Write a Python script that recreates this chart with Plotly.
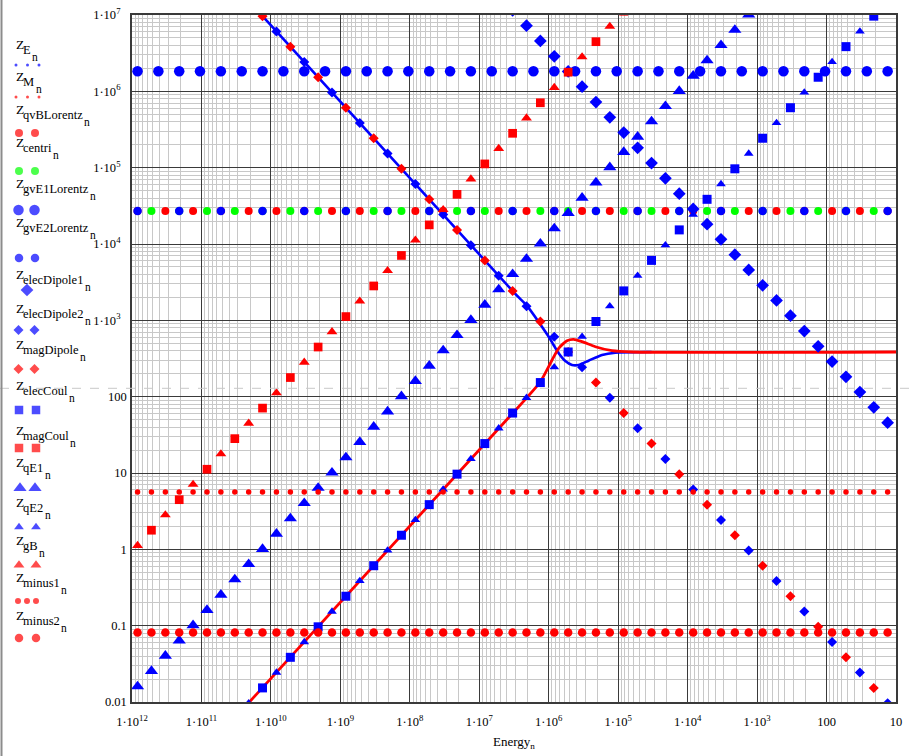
import plotly.graph_objects as go

# ---------------- data ----------------
# energy grid (0.2-decade steps) shared by most marker traces
energy = [
    8.32e11, 5.25e11, 3.31e11, 2.09e11, 1.32e11,
    8.32e10, 5.25e10, 3.31e10, 2.09e10, 1.32e10,
    8.32e9, 5.25e9, 3.31e9, 2.09e9, 1.32e9,
    8.32e8, 5.25e8, 3.31e8, 2.09e8, 1.32e8,
    8.32e7, 5.25e7, 3.31e7, 2.09e7, 1.32e7,
    8.32e6, 5.25e6, 3.31e6, 2.09e6, 1.32e6,
    8.32e5, 5.25e5, 3.31e5, 2.09e5, 1.32e5,
    8.32e4, 5.25e4, 3.31e4, 2.09e4, 1.32e4,
    8.32e3, 5.25e3, 3.31e3, 2.09e3, 1.32e3,
    8.32e2, 5.25e2, 3.31e2, 2.09e2, 1.32e2,
    8.32e1, 5.25e1, 3.31e1, 2.09e1, 1.32e1,
]
# energy grid (0.3-decade steps) used by Z_gvE1Lorentz
energy_gvE1 = [
    8.32e11, 4.17e11, 2.09e11, 1.05e11, 5.25e10, 2.63e10, 1.32e10, 6.61e9, 3.31e9, 1.66e9,
    8.32e8, 4.17e8, 2.09e8, 1.05e8, 5.25e7, 2.63e7, 1.32e7, 6.61e6, 3.31e6, 1.66e6,
    8.32e5, 4.17e5, 2.09e5, 1.05e5, 5.25e4, 2.63e4, 1.32e4, 6.61e3, 3.31e3, 1.66e3,
    8.32e2, 4.17e2, 2.09e2, 1.05e2, 5.25e1, 2.63e1, 1.32e1,
]

# continuous curves
energy_E = [2.51e10, 3.03e6, 2.05e6, 1.00e6, 8.51e5, 7.19e5, 5.77e5, 4.62e5, 3.71e5,
            2.67e5, 1.71e5, 1.10e5, 3.64e4, 3.31e4]
Z_E = [1.84e7, 2.22e3, 1.55e3, 610, 475, 370, 293, 260, 260, 296, 352, 377, 385, 385]

energy_M = [3.98e10, 2.17e6, 1.32e6, 8.95e5, 7.19e5, 5.46e5, 4.38e5, 3.31e5, 2.13e5,
            1.23e5, 6.32e4, 9.0]
Z_M = [0.00513, 92.3, 157, 302, 430, 541, 564, 525, 451, 400, 385, 385]

# marker series
Z_qvBLorentz = [2.7e4] * 28
Z_centri = [2.7e4] * 27
Z_gvE1Lorentz = [1.83e6] * 37
Z_gvE2Lorentz = [2.7e4] * 19
Z_elecDipole1 = [1.15e7, 7.24e6, 4.57e6, 2.88e6, 1.82e6, 1.15e6, 7.24e5, 4.57e5, 2.88e5, 1.82e5,
                 1.15e5, 7.24e4, 4.57e4, 2.88e4, 1.82e4, 1.15e4, 7.24e3, 4.57e3, 2.88e3, 1.82e3,
                 1.15e3, 724, 457, 288, 182, 115, 72.4, 45.7]
Z_elecDipole2 = [6.10e6, 2.43e6, 9.66e5, 3.85e5, 1.53e5, 6.10e4, 2.43e4, 9.66e3, 3.85e3, 1.53e3,
                 610, 243, 96.6, 38.5, 15.3, 6.10, 2.43, 0.966, 0.385, 0.153, 0.0610, 0.0243, 0.00966]
Z_magDipole = [9.66e6, 3.85e6, 1.53e6, 6.10e5, 2.43e5, 9.66e4, 3.85e4, 1.53e4, 6.10e3, 2.43e3,
               966, 385, 153, 61.0, 24.3, 9.66, 3.85, 1.53, 0.610, 0.243, 0.0966, 0.0385, 0.0153]
Z_elecCoul = [0.0153, 0.0385, 0.0966, 0.243, 0.610, 1.53, 3.85, 9.66, 24.3, 61.0, 153, 385, 966,
              2.43e3, 6.10e3, 1.53e4, 3.85e4, 9.66e4, 2.43e5, 6.10e5, 1.53e6, 3.85e6, 9.66e6]
Z_magCoul = [1.78, 4.47, 11.2, 28.2, 70.8, 178, 447, 1.12e3, 2.82e3, 7.08e3, 1.78e4, 4.47e4,
             1.12e5, 2.82e5, 7.08e5, 1.78e6, 4.47e6, 1.12e7]
Z_qE1 = [0.0160, 0.0254, 0.0403, 0.0638, 0.101, 0.160, 0.254, 0.403, 0.638, 1.01,
         1.60, 2.54, 4.03, 6.38, 10.1, 16.0, 25.4, 40.3, 63.8, 101,
         160, 254, 403, 638, 1.01e3, 1.60e3, 2.54e3, 4.03e3, 6.38e3, 1.01e4,
         1.60e4, 2.54e4, 4.03e4, 6.38e4, 1.01e5, 1.60e5, 2.54e5, 4.03e5, 6.38e5, 1.01e6,
         1.60e6, 2.54e6, 4.03e6, 6.38e6, 1.01e7]
Z_qE2 = [0.00966, 0.0243, 0.0610, 0.153, 0.385, 0.966, 2.43, 6.10, 15.3, 38.5, 96.6, 243, 610,
         1.53e3, 3.85e3, 9.66e3, 2.43e4, 6.10e4, 1.53e5, 3.85e5, 9.66e5, 2.43e6, 6.10e6, 1.53e7]
Z_gB = [1.12, 2.82, 7.08, 17.8, 44.7, 112, 282, 708, 1.78e3, 4.47e3, 1.12e4, 2.82e4, 7.08e4,
        1.78e5, 4.47e5, 1.12e6, 2.82e6, 7.08e6]
Z_minus1 = [5.65] * 55
Z_minus2 = [0.0815] * 55

x_ticks = [1e12, 1e11, 1e10, 1e9, 1e8, 1e7, 1e6, 1e5, 1e4, 1e3, 100, 10]
x_ticktext = ["1·10<sup>12</sup>", "1·10<sup>11</sup>", "1·10<sup>10</sup>", "1·10<sup>9</sup>",
              "1·10<sup>8</sup>", "1·10<sup>7</sup>", "1·10<sup>6</sup>", "1·10<sup>5</sup>",
              "1·10<sup>4</sup>", "1·10<sup>3</sup>", "100", "10"]
y_ticks = [0.01, 0.1, 1, 10, 100, 1e3, 1e4, 1e5, 1e6, 1e7]
y_ticktext = ["0.01", "0.1", "1", "10", "100", "1·10<sup>3</sup>\u00a0\u00a0", "1·10<sup>4</sup>\u00a0\u00a0",
              "1·10<sup>5</sup>\u00a0\u00a0", "1·10<sup>6</sup>\u00a0\u00a0", "1·10<sup>7</sup>\u00a0\u00a0"]

BLUE = "#0000ff"
RED = "#ff0000"
GREEN = "#00ff00"
FONT = "Liberation Serif"

# marker sizes
S_QE1, S_QE2, S_GB = 11.5, 8.5, 9.5

# ---------------- page geometry (pixels) ----------------
W, H = 912, 756
PL, PR, PT, PB = 132, 896, 15, 702      # plot-area edges
LEG_W = 128                              # width of the legend strip

# ---------------- figure ----------------
fig = go.Figure()

fig.add_trace(go.Scatter(x=energy_E, y=Z_E, mode="lines",
                         line=dict(color=BLUE, width=2.6, shape="spline", smoothing=0.6),
                         name="Z_E", showlegend=False))
fig.add_trace(go.Scatter(x=energy_M, y=Z_M, mode="lines",
                         line=dict(color=RED, width=2.8, shape="spline", smoothing=0.6),
                         name="Z_M", showlegend=False))


def markers(x, y, name, symbol, color, size):
    fig.add_trace(go.Scatter(x=x, y=y, mode="markers", name=name, showlegend=False,
                             marker=dict(symbol=symbol, color=color, size=size, line=dict(width=0))))


markers(energy[0::2], Z_qvBLorentz, "Z_qvBLorentz", "circle", RED, 8)
markers(energy[1::2], Z_centri, "Z_centri", "circle", GREEN, 8)
markers(energy_gvE1, Z_gvE1Lorentz, "Z_gvE1Lorentz", "circle", BLUE, 10.5)
markers(energy[0::3], Z_gvE2Lorentz, "Z_gvE2Lorentz", "circle", BLUE, 8.5)
markers(energy[27:], Z_elecDipole1, "Z_elecDipole1", "diamond", BLUE, 9.8)
markers(energy[10::2], Z_elecDipole2, "Z_elecDipole2", "diamond", BLUE, 7.7)
markers(energy[9::2], Z_magDipole, "Z_magDipole", "diamond", RED, 7.7)
markers(energy[9::2], Z_elecCoul, "Z_elecCoul", "square", BLUE, 9)
markers(energy[1:36:2], Z_magCoul, "Z_magCoul", "square", RED, 8.7)
markers(energy[0:45], Z_qE1, "Z_qE1", "triangle-up", BLUE, S_QE1)
markers(energy[8::2], Z_qE2, "Z_qE2", "triangle-up", BLUE, S_QE2)
markers(energy[0:35:2], Z_gB, "Z_gB", "triangle-up", RED, S_GB)
markers(energy, Z_minus1, "Z_minus1", "circle", RED, 5.5)
markers(energy, Z_minus2, "Z_minus2", "circle", RED, 8.5)

# ---------------- Mathcad-style legend (own pixel axes on the left strip) ----------------
legend_items = [
    ("E", 46, [(16, 65), (27.5, 65), (39, 65)], "circle", BLUE, 3),
    ("M", 78, [(16, 97), (27.5, 97), (39, 97)], "circle", RED, 3),
    ("qvBLorentz", 111, [(19, 133), (35, 133)], "circle", RED, 8),
    ("centri", 144, [(19, 171), (35, 171)], "circle", GREEN, 8),
    ("gvE1Lorentz", 185, [(18.5, 210), (34.5, 210)], "circle", BLUE, 10.5),
    ("gvE2Lorentz", 224, [(19, 258), (35, 258)], "circle", BLUE, 8.5),
    ("elecDipole1", 276, [(27, 290)], "diamond", BLUE, 9.8),
    ("elecDipole2", 310, [(18.5, 330), (34.5, 330)], "diamond", BLUE, 7.7),
    ("magDipole", 346, [(18.5, 369), (34.5, 369)], "diamond", RED, 7.7),
    ("elecCoul", 387, [(19, 410), (36, 410)], "square", BLUE, 8.5),
    ("magCoul", 432, [(19, 448), (36, 448)], "square", RED, 8.5),
    ("qE1", 464, [(20, 488), (35, 488)], "triangle-up", BLUE, S_QE1),
    ("qE2", 504, [(19, 527), (36, 527)], "triangle-up", BLUE, S_QE2),
    ("gB", 542, [(19, 565), (36, 565)], "triangle-up", RED, S_GB),
    ("minus1", 579, [(18, 601), (27, 601), (36, 601)], "circle", RED, 6),
    ("minus2", 617, [(19, 638), (36, 638)], "circle", RED, 8.5),
]

# Times / Liberation Serif advance widths (1/1000 em) for text placement
CHAR_W = {"E": 611, "M": 889, "q": 500, "v": 500, "B": 667, "L": 611, "o": 500, "r": 333,
          "e": 444, "n": 500, "t": 278, "z": 444, "c": 444, "i": 278, "g": 500, "1": 500,
          "2": 500, "l": 278, "D": 722, "p": 500, "a": 444, "C": 667, "u": 500, "m": 778, "s": 389}

Z_SIZE, SUB_SIZE, N_SIZE = 13.5, 12.5, 11.5
lx, ly, lsym, lcol, lsize = [], [], [], [], []
annotations = []
for sub, zy, pts, sym, col, sz in legend_items:
    for (xx, yy) in pts:
        lx.append(xx)
        ly.append(yy)
        lsym.append(sym)
        lcol.append(col)
        lsize.append(sz)
    base = zy + 3.5
    sub_x = 22
    sub_w = sum(CHAR_W.get(ch, 500) for ch in sub) * SUB_SIZE / 1000.0
    pieces = [
        ("Z", 15, base - 0.34 * Z_SIZE, Z_SIZE),
        (sub, sub_x, base + 5 - 0.34 * SUB_SIZE, SUB_SIZE),
        ("n", sub_x + sub_w + 1.5, base + 11.7 - 0.34 * N_SIZE, N_SIZE),
    ]
    for txt, tx, ty, fs in pieces:
        annotations.append(dict(xref="x2", yref="y2", x=tx, y=ty, xanchor="left", yanchor="middle",
                                text=txt, showarrow=False, borderpad=0,
                                font=dict(family=FONT, size=fs, color="black")))

fig.add_trace(go.Scatter(x=lx, y=ly, xaxis="x2", yaxis="y2", mode="markers", showlegend=False,
                         hoverinfo="skip", cliponaxis=False,
                         marker=dict(symbol=lsym, color=lcol, size=lsize, line=dict(width=0))))

annotations.append(dict(xref="paper", yref="paper", x=(PL + PR) / 2 / W, y=1 - 742 / H,
                        xanchor="center", yanchor="middle",
                        text="Energy<sub>n</sub>", showarrow=False,
                        font=dict(family=FONT, size=13, color="black")))

shapes = [
    dict(type="line", xref="paper", yref="paper", x0=0, x1=1, y0=1 - 388.3 / H, y1=1 - 388.3 / H,
         line=dict(color="#c8c8c8", width=1, dash="dash"), layer="above"),
    dict(type="line", xref="paper", yref="paper", x0=1.5 / W, x1=1.5 / W, y0=0, y1=1,
         line=dict(color="#8c8c8c", width=2), layer="above"),
]

axis_common = dict(
    type="log", showgrid=True, gridcolor="#3a3a3a", gridwidth=1, automargin=False,
    minor=dict(dtick="D1", showgrid=True, gridcolor="#c8c8c8", gridwidth=1),
    showline=True, mirror=True, linecolor="#3a3a3a", linewidth=1.5,
    ticks="", zeroline=False, tickfont=dict(family=FONT, size=12.5, color="black"),
)

fig.update_layout(
    template="none",
    width=W, height=H, autosize=False,
    margin=dict(l=0, r=0, t=0, b=0, pad=0, autoexpand=False),
    paper_bgcolor="white", plot_bgcolor="white",
    xaxis=dict(domain=[PL / W, PR / W], range=[12, 1], tickmode="array", tickvals=x_ticks,
               ticktext=x_ticktext, ticklabelstandoff=7, **axis_common),
    yaxis=dict(domain=[1 - PB / H, 1 - PT / H], range=[-2, 7], tickmode="array", tickvals=y_ticks,
               ticktext=y_ticktext, ticklabelstandoff=1, **axis_common),
    xaxis2=dict(domain=[0, LEG_W / W], range=[0, LEG_W], visible=False, anchor="y2",
                fixedrange=True, automargin=False),
    yaxis2=dict(domain=[0, 1], range=[H, 0], visible=False, anchor="x2",
                fixedrange=True, automargin=False),
    annotations=annotations,
    shapes=shapes,
    showlegend=False,
)

fig.write_html("out.html", config={"displayModeBar": False},
               post_script="document.body.style.margin='0px';document.body.style.overflow='hidden';")
